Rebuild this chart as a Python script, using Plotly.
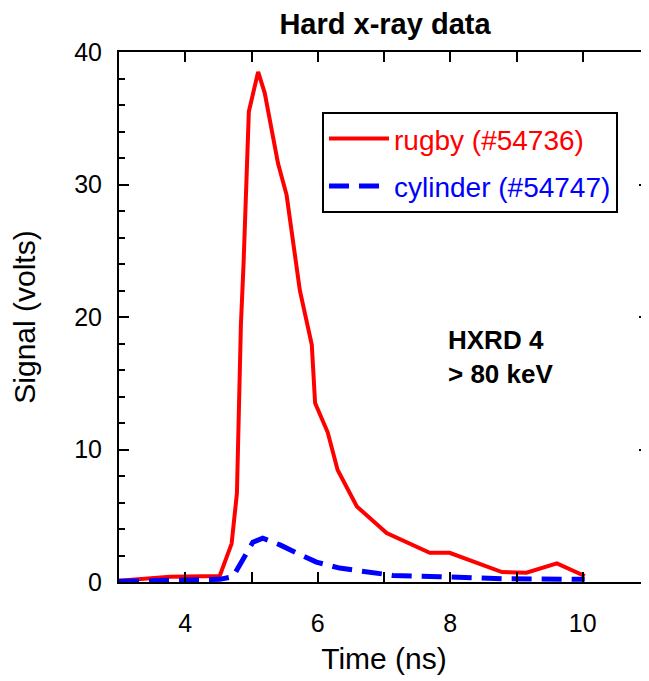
import plotly.graph_objects as go

rugby_t = [3.0, 3.77, 4.52, 4.70, 4.78, 4.84, 4.88, 4.91, 4.96, 5.10, 5.20, 5.40, 5.53, 5.73, 5.91, 5.96, 6.15, 6.30, 6.59, 7.04, 7.69, 7.99, 8.78, 9.15, 9.61, 10.03]
rugby_v = [0.1, 0.4, 0.45, 2.9, 6.7, 19.4, 24.0, 28.5, 35.5, 38.5, 36.9, 31.6, 29.2, 22.0, 17.9, 13.5, 11.3, 8.45, 5.7, 3.7, 2.2, 2.2, 0.75, 0.7, 1.4, 0.45]

cyl_t = [3.0, 4.52, 4.72, 4.87, 5.02, 5.17, 5.43, 5.68, 5.98, 6.33, 6.74, 7.13, 7.84, 8.78, 10.03]
cyl_v = [0.05, 0.2, 0.4, 1.65, 3.0, 3.3, 2.8, 2.2, 1.5, 1.05, 0.75, 0.5, 0.4, 0.25, 0.2]

x_tickvals = [3, 4, 5, 6, 7, 8, 9, 10, 11]
x_ticktext = ["", "4", "", "6", "", "8", "", "10", ""]

FONT = "Liberation Sans, Arial, Helvetica, sans-serif"

W, H = 641, 673  # page body has an 8px margin

fig = go.Figure()
fig.add_trace(go.Scatter(
    x=rugby_t, y=rugby_v, mode="lines",
    line=dict(color="#ff0000", width=4),
    legendgroup="a",
    name="<span style='color:#ff0000'>rugby (#54736)</span>",
))
fig.add_trace(go.Scatter(
    x=cyl_t, y=cyl_v, mode="lines",
    line=dict(color="#0000ff", width=5, dash="20px,10px"),
    legendgroup="b",
    name="<span style='color:#0000ff'>cylinder (#54747)</span>",
))

fig.add_annotation(
    x=7.93, y=17.0, xref="x", yref="y", xanchor="left", yanchor="middle",
    text="<b>HXRD 4<br>> 80 keV</b>", showarrow=False, align="left",
    font=dict(size=26, color="black", family=FONT),
)

fig.update_layout(
    width=W, height=H,
    margin=dict(l=111, r=0, t=44, b=99, autoexpand=False),
    paper_bgcolor="white", plot_bgcolor="white",
    font=dict(family=FONT, size=25, color="black"),
    title=dict(text="<b>Hard x-ray data</b>", x=377 / W, xanchor="center",
               y=1 - 16 / H, yanchor="middle", font=dict(size=29)),
    showlegend=True,
    legend=dict(
        x=0.383, y=0.887, xanchor="left", yanchor="top",
        bordercolor="black", borderwidth=2, bgcolor="white",
        font=dict(size=28, family=FONT), traceorder="grouped", tracegroupgap=8,
        itemwidth=60,
    ),
    xaxis=dict(
        range=[3, 11], tickmode="array", tickvals=x_tickvals, ticktext=x_ticktext,
        ticks="inside", ticklen=10, tickwidth=2, tickcolor="black",
        showline=True, linecolor="black", linewidth=2, mirror="ticks",
        showgrid=False, zeroline=False, ticklabelstandoff=18,
        title=dict(text="Time (ns)", standoff=12),
        tickfont=dict(size=25),
    ),
    yaxis=dict(
        range=[0, 40], dtick=10, ticks="inside", ticklen=10, tickwidth=2, tickcolor="black",
        minor=dict(dtick=2, ticks="inside", ticklen=6, tickwidth=2, tickcolor="black"),
        showline=True, linecolor="black", linewidth=2, mirror="ticks",
        showgrid=False, zeroline=False, ticklabelstandoff=10,
        title=dict(text="Signal (volts)", standoff=30),
        tickfont=dict(size=25),
    ),
)

fig.write_html("out.html")
